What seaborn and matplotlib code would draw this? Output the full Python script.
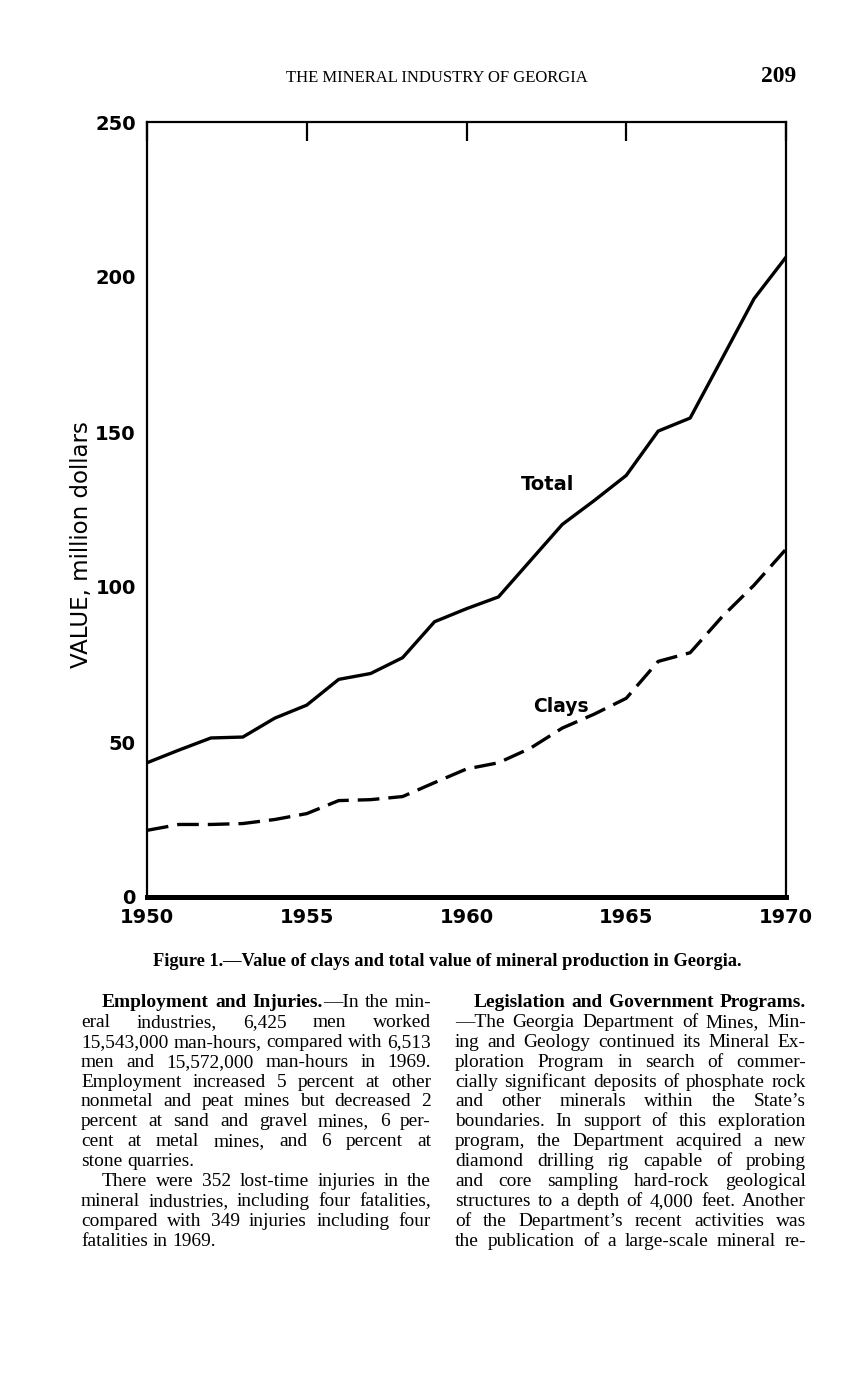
import pandas as pd
import seaborn as sns
import matplotlib.pyplot as plt

# values, million dollars
years = [1950, 1951, 1952, 1953, 1954, 1955, 1956, 1957, 1958, 1959, 1960,
         1961, 1962, 1963, 1964, 1965, 1966, 1967, 1968, 1969, 1970]
total = [43.3, 47.4, 51.3, 51.6, 57.7, 61.9, 70.2, 72.1, 77.2, 88.8, 93.0,
         96.8, 108.5, 120.2, 127.9, 136.0, 150.3, 154.5, 173.7, 193.0, 206.4]
clays = [21.5, 23.4, 23.4, 23.7, 25.0, 26.9, 31.1, 31.4, 32.4, 36.9, 41.3,
         43.3, 48.0, 54.5, 59.0, 64.1, 76.0, 78.8, 90.4, 100.6, 112.2]
year_ticks = [1950, 1955, 1960, 1965, 1970]
value_ticks = [0, 50, 100, 150, 200, 250]

header = "THE MINERAL INDUSTRY OF GEORGIA"
page_no = "209"
caption = "Figure 1.\u2014Value of clays and total value of mineral production in Georgia."

# *...* marks bold runs
col1 = [
    "*Employment and Injuries.*\u2014In the min-",
    "eral industries, 6,425 men worked",
    "15,543,000 man-hours, compared with 6,513",
    "men and 15,572,000 man-hours in 1969.",
    "Employment increased 5 percent at other",
    "nonmetal and peat mines but decreased 2",
    "percent at sand and gravel mines, 6 per-",
    "cent at metal mines, and 6 percent at",
    "stone quarries.",
    "There were 352 lost-time injuries in the",
    "mineral industries, including four fatalities,",
    "compared with 349 injuries including four",
    "fatalities in 1969.",
]
col2 = [
    "*Legislation and Government Programs.*",
    "\u2014The Georgia Department of Mines, Min-",
    "ing and Geology continued its Mineral Ex-",
    "ploration Program in search of commer-",
    "cially significant deposits of phosphate rock",
    "and other minerals within the State\u2019s",
    "boundaries. In support of this exploration",
    "program, the Department acquired a new",
    "diamond drilling rig capable of probing",
    "and core sampling hard-rock geological",
    "structures to a depth of 4,000 feet. Another",
    "of the Department\u2019s recent activities was",
    "the publication of a large-scale mineral re-",
]

sns.set_style("white")
plt.rcParams["font.family"] = ["DejaVu Sans"]
plt.rcParams["text.color"] = "black"
plt.rcParams["axes.labelcolor"] = "black"

W, H = 865, 1379
fig = plt.figure(figsize=(W / 100, H / 100), dpi=100)


def fx(px):
    return px / W


def fy(py):
    return 1 - py / H


ax = fig.add_axes([fx(147), fy(897), fx(786) - fx(147), fy(122) - fy(897)])

df = pd.DataFrame({
    "year": years + years,
    "value": total + clays,
    "series": ["Total"] * len(years) + ["Clays"] * len(years),
})
sns.lineplot(data=df, x="year", y="value", style="series",
             dashes={"Total": "", "Clays": (6.5, 2.7)},
             color="black", linewidth=2.4, legend=False, ax=ax)
for line in ax.get_lines():
    line.set_dash_capstyle("butt")
    line.set_solid_joinstyle("round")

ax.set_xlim(1950, 1970)
ax.set_ylim(0, 250)
ax.set_xticks(year_ticks)
ax.set_xticks(years, minor=True)
ax.set_yticks(value_ticks)
ax.set_xlabel("")
ax.set_ylabel("VALUE, million dollars", fontsize=16.5, color="black")
ax.yaxis.set_label_coords(-0.084, 0.455)

for side in ["left", "top", "right"]:
    ax.spines[side].set_linewidth(1.6)
    ax.spines[side].set_color("black")
ax.spines["bottom"].set_linewidth(3.6)
ax.spines["bottom"].set_color("black")

ax.tick_params(axis="x", which="major", direction="in", length=14, width=1.6,
               top=True, pad=8, labelsize=14, colors="black")
ax.tick_params(axis="x", which="minor", direction="in", length=10, width=1.6,
               top=False, colors="black")
ax.tick_params(axis="y", direction="in", length=10, width=1.6, pad=8,
               labelsize=14, colors="black")
for lab in ax.get_xticklabels() + ax.get_yticklabels():
    lab.set_fontweight("bold")

ax.text(1961.7, 133, "Total", fontsize=14, fontweight="bold", va="center", color="black")
ax.text(1962.1, 61.5, "Clays", fontsize=13.5, fontweight="bold", va="center", color="black")

serif = "Liberation Serif"
fig.text(fx(437), fy(78), header, ha="center", va="center", family=serif, fontsize=12)
fig.text(fx(796), fy(77), page_no, ha="right", va="center", family=serif,
         fontsize=17, fontweight="bold")
fig.text(fx(447), fy(961), caption, ha="center", va="center", family=serif,
         fontsize=13.2, fontweight="bold")

renderer = fig.canvas.get_renderer()


def make_words(line, size):
    words = []
    bold = False
    for token in line.split(" "):
        texts = []
        for k, part in enumerate(token.split("*")):
            if k > 0:
                bold = not bold
            if part:
                t = fig.text(0, 0, part, family=serif, fontsize=size,
                             fontweight="bold" if bold else "normal", va="baseline")
                texts.append((t, t.get_window_extent(renderer).width))
        words.append(texts)
    return words


def natural_width(line, size):
    words = make_words(line, size)
    w = sum(tw for texts in words for _, tw in texts)
    for texts in words:
        for t, _ in texts:
            t.remove()
    return w + (len(words) - 1) * size * 100 / 72 * 0.25


def place_line(line, x_left, x_right, y, justify, size):
    words = make_words(line, size)
    used = sum(tw for texts in words for _, tw in texts)
    if justify and len(words) > 1:
        gap = (x_right - x_left - used) / (len(words) - 1)
    else:
        gap = size * 100 / 72 * 0.25
    x = x_left
    for texts in words:
        for t, tw in texts:
            t.set_position((fx(x), fy(y)))
            x += tw
        x += gap


columns = [
    (col1, 81, 431, {0, 9}, {8, 12}, 21),
    (col2, 455, 806, {0}, set(), 19),
]

# body size chosen so the tightest justified line sets with plain spaces
base = 12.0
ratio = min(
    (x1 - x0 - (ind if i in st else 0)) / natural_width(ln, base)
    for lines, x0, x1, st, en, ind in columns
    for i, ln in enumerate(lines) if i not in en
)
body_size = base * ratio * 0.995

for lines, x0, x1, st, en, ind in columns:
    for i, ln in enumerate(lines):
        xl = x0 + (ind if i in st else 0)
        place_line(ln, xl, x1, 1007 + 19.9 * i, i not in en, body_size)

fig.savefig("out.png", dpi=100)
